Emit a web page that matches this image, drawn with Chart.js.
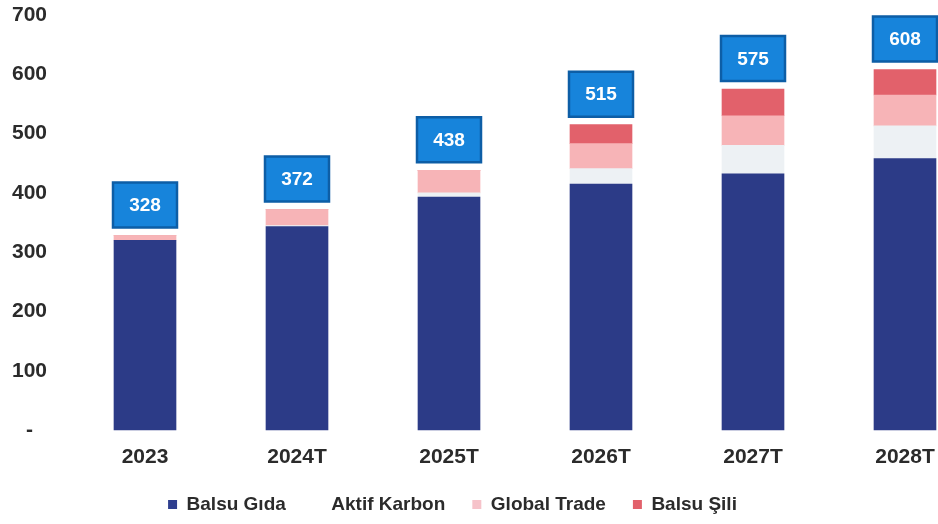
<!DOCTYPE html>
<html>
<head>
<meta charset="utf-8">
<script src="https://cdn.jsdelivr.net/npm/chart.js@4.4.0/dist/chart.umd.min.js"></script>
<style>
  html, body { margin: 0; padding: 0; background: #fff; }
  #wrap { width: 938px; height: 524px; }
</style>
</head>
<body>
<div id="wrap"><canvas id="chart"></canvas></div>
<script>
// values
var categories = ['2023', '2024T', '2025T', '2026T', '2027T', '2028T'];
var balsuGida = [320, 343, 393, 415, 432, 458];
var aktifKarbon = [0, 2, 7, 26, 48, 55];
var globalTrade = [8, 27, 38, 42, 50, 52];
var balsuSili = [0, 0, 0, 32, 45, 43];
var totals = [328, 372, 438, 515, 575, 608];
var yTicks = [0, 100, 200, 300, 400, 500, 600, 700];

var FONT = "'Liberation Sans', Arial, sans-serif";
var TEXT = '#2b2b2b';

// blue total boxes above each bar
var totalBoxes = {
  id: 'totalBoxes',
  afterDatasetsDraw: function(chart) {
    var ctx = chart.ctx;
    var xs = chart.scales.x, ys = chart.scales.y;
    ctx.save();
    for (var i = 0; i < categories.length; i++) {
      var stackTop = balsuGida[i] + aktifKarbon[i] + globalTrade[i] + balsuSili[i];
      var x = xs.getPixelForValue(i);
      var y = ys.getPixelForValue(stackTop);
      var w = 64, h = 45;
      var bx = x - w / 2, by = y - 8 - h;
      ctx.fillStyle = '#1784db';
      ctx.strokeStyle = '#0d5ea6';
      ctx.lineWidth = 2.5;
      ctx.beginPath();
      ctx.rect(bx, by, w, h);
      ctx.fill();
      ctx.stroke();
      ctx.fillStyle = '#ffffff';
      ctx.font = 'bold 19px ' + FONT;
      ctx.textAlign = 'center';
      ctx.textBaseline = 'middle';
      ctx.fillText(String(totals[i]), x, by + h / 2 + 1);
    }
    ctx.restore();
  }
};

new Chart(document.getElementById('chart'), {
  type: 'bar',
  data: {
    labels: categories,
    datasets: [
      { label: 'Balsu Gıda', data: balsuGida, backgroundColor: '#2c3b87', borderWidth: 0, clip: false },
      { label: 'Aktif Karbon', data: aktifKarbon, backgroundColor: '#edf1f4', borderWidth: 0, clip: false },
      { label: 'Global Trade', data: globalTrade, backgroundColor: '#f7b4b7', borderWidth: 0, clip: false },
      { label: 'Balsu Şili', data: balsuSili, backgroundColor: '#e2616b', borderWidth: 0, clip: false }
    ]
  },
  options: {
    responsive: true,
    maintainAspectRatio: false,
    animation: false,
    barThickness: 62,
    layout: { padding: { top: 15, right: 33, left: 0, bottom: 0 } },
    scales: {
      x: {
        stacked: true,
        offset: false,
        grid: { display: false, drawTicks: false },
        border: { display: false },
        afterFit: function(scale) {
          scale.paddingLeft = 0;
          scale.paddingRight = 0;
          scale.height = 38;
        },
        ticks: { color: TEXT, font: { family: FONT, size: 21, weight: 'bold' }, padding: 15 }
      },
      y: {
        stacked: true,
        min: 0,
        max: 700,
        grid: { display: false },
        border: { display: false },
        afterBuildTicks: function(scale) {
          scale.ticks = yTicks.map(function(v) { return { value: v }; });
        },
        afterFit: function(scale) {
          scale.width = 145;
          scale.paddingTop = 0;
          scale.paddingBottom = 0;
        },
        ticks: {
          color: TEXT,
          font: { family: FONT, size: 21, weight: 'bold' },
          crossAlign: 'center',
          padding: 90,
          callback: function(v) { return v === 0 ? '-' : v; }
        }
      }
    },
    plugins: {
      legend: {
        position: 'bottom',
        labels: {
          color: TEXT,
          font: { family: FONT, size: 19, weight: 'bold' },
          boxWidth: 9,
          boxHeight: 9,
          padding: 27,
          generateLabels: function(chart) {
            var fills = ['#2f3f8f', '#ffffff', '#f6c3ca', '#e2616b'];
            return chart.data.datasets.map(function(ds, i) {
              return { text: ds.label, fillStyle: fills[i], strokeStyle: fills[i], lineWidth: 0, datasetIndex: i, fontColor: TEXT };
            });
          }
        }
      },
      tooltip: { enabled: false }
    }
  },
  plugins: [totalBoxes]
});
</script>
</body>
</html>
